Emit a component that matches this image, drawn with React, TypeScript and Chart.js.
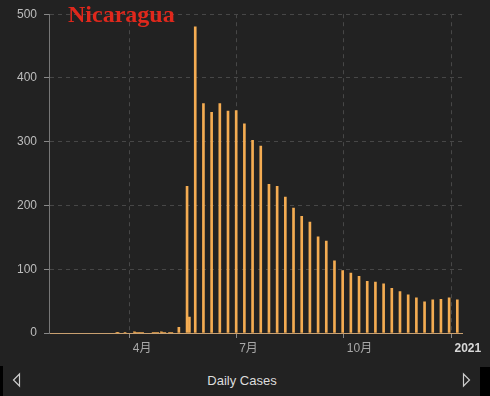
import React, { useEffect, useRef } from "react";
import { Chart, registerables } from "chart.js";

Chart.register(...registerables);

// Weekly reported cases (from late May 2020)
const weeklyDates = [
  "2020-05-20", "2020-05-27", "2020-06-03", "2020-06-10", "2020-06-17", "2020-06-24",
  "2020-07-01", "2020-07-08", "2020-07-15", "2020-07-22", "2020-07-29", "2020-08-05",
  "2020-08-12", "2020-08-19", "2020-08-26", "2020-09-02", "2020-09-09", "2020-09-16",
  "2020-09-23", "2020-09-30", "2020-10-07", "2020-10-14", "2020-10-21", "2020-10-28",
  "2020-11-04", "2020-11-11", "2020-11-18", "2020-11-25", "2020-12-02", "2020-12-09",
  "2020-12-16", "2020-12-23", "2020-12-30", "2021-01-06",
];
const weeklyCases = [
  230, 480, 360, 346, 360, 348,
  349, 328, 302, 293, 233, 230,
  213, 196, 183, 174, 151, 144,
  113, 98, 94, 89, 81, 80,
  77, 70, 65, 60, 55, 49,
  52, 53, 55, 52,
];

// Early sparse daily cases
const earlyDates = [
  "2020-03-21", "2020-03-22", "2020-03-28", "2020-04-05", "2020-04-06", "2020-04-08",
  "2020-04-10", "2020-04-12", "2020-04-21", "2020-04-23", "2020-04-25", "2020-04-28",
  "2020-04-29", "2020-05-01", "2020-05-05", "2020-05-07", "2020-05-13", "2020-05-22",
];
const earlyCases = [
  1, 1, 1, 2, 1, 1,
  1, 1, 1, 1, 1, 2,
  1, 1, 1, 1, 9, 25,
];

const tickDates = ["2020-04-01", "2020-07-01", "2020-10-01", "2021-01-01"];
const tickLabels = ["4月", "7月", "10月", "2021"];
const axisStartDate = "2020-01-23";
const axisEndDate = "2021-01-10";
const yMin = 0;
const yMax = 500;
const yStep = 100;

const DAY_MS = 86400000;
const ORIGIN = Date.UTC(2020, 0, 1);
function dayIndex(s: string): number {
  const [y, m, d] = s.split("-").map(Number);
  return Math.round((Date.UTC(y, m - 1, d) - ORIGIN) / DAY_MS);
}

export default function App() {
  const canvasRef = useRef<HTMLCanvasElement | null>(null);

  useEffect(() => {
    if (!canvasRef.current) return;
    const points = [
      ...earlyDates.map((d, i) => ({ x: dayIndex(d), y: earlyCases[i] })),
      ...weeklyDates.map((d, i) => ({ x: dayIndex(d), y: weeklyCases[i] })),
    ].sort((a, b) => a.x - b.x);
    const tickDays = tickDates.map(dayIndex);
    const labelFor: Record<number, string> = {};
    tickDays.forEach((d, i) => (labelFor[d] = tickLabels[i]));
    const boldDay = tickDays[tickDays.length - 1];

    const chart = new Chart(canvasRef.current, {
      type: "bar",
      data: {
        datasets: [
          {
            label: "Daily Cases",
            data: points,
            backgroundColor: "#f4ac52",
            borderWidth: 0,
            barThickness: 2,
          },
        ],
      },
      options: {
        animation: false,
        responsive: false,
        maintainAspectRatio: false,
        layout: { padding: { top: 14, right: 28, left: 0, bottom: 0 } },
        plugins: {
          legend: { display: false },
          tooltip: { enabled: false },
          title: { display: false },
        },
        scales: {
          x: {
            type: "linear",
            min: dayIndex(axisStartDate),
            max: dayIndex(axisEndDate),
            offset: false,
            afterBuildTicks: (scale: any) => {
              scale.ticks = tickDays.map((v) => ({ value: v }));
            },
            afterFit: (scale: any) => {
              scale.height = 33;
            },
            ticks: {
              autoSkip: false,
              maxRotation: 0,
              align: "start",
              labelOffset: 3,
              padding: 3,
              color: (ctx: any) => (ctx.tick && ctx.tick.value === boldDay ? "#d8d8d8" : "#a8a8a8"),
              font: (ctx: any) => ({
                family: "'Liberation Sans', 'Noto Sans CJK SC', sans-serif",
                size: 12,
                weight: ctx.tick && ctx.tick.value === boldDay ? "bold" : "normal",
              }),
              callback: (v: any) => labelFor[v as number] ?? "",
            },
            grid: {
              offset: false,
              color: "#474747",
              lineWidth: 1,
              tickLength: 5,
              tickColor: "#888888",
              tickBorderDash: [],
            },
            border: {
              display: true,
              color: "#c9a070",
              width: 1,
              dash: [4, 4],
            },
          },
          y: {
            type: "linear",
            min: yMin,
            max: yMax,
            afterFit: (scale: any) => {
              scale.width = 49;
            },
            ticks: {
              stepSize: yStep,
              padding: 7,
              color: "#bdbdbd",
              font: { family: "'Liberation Sans', sans-serif", size: 12 },
            },
            grid: {
              color: "#474747",
              lineWidth: 1,
              tickLength: 5,
              tickColor: "#888888",
              tickBorderDash: [],
            },
            border: {
              display: true,
              color: "#777777",
              width: 1,
              dash: [4, 4],
            },
          },
        },
      },
    } as any);
    return () => chart.destroy();
  }, []);

  return (
    <div
      style={{
        position: "fixed",
        left: 0,
        top: 0,
        width: 490,
        height: 396,
        background: "#222222",
        overflow: "hidden",
      }}
    >
      <canvas
        ref={canvasRef}
        width={490}
        height={366}
        style={{ position: "absolute", left: 0, top: 0, width: 490, height: 366 }}
      />
      <div
        style={{
          position: "absolute",
          left: 68,
          top: 2,
          fontFamily: "'Liberation Serif', 'Times New Roman', serif",
          fontWeight: "bold",
          fontSize: 24,
          lineHeight: "24px",
          color: "#e0281c",
          whiteSpace: "nowrap",
        }}
      >
        Nicaragua
      </div>
      <div style={{ position: "absolute", left: 0, top: 366, width: 3, height: 30, background: "#000" }} />
      <div style={{ position: "absolute", left: 480, top: 367, width: 10, height: 29, background: "#000" }} />
      <svg
        width={490}
        height={30}
        style={{ position: "absolute", left: 0, top: 366 }}
      >
        <polygon points="19.5,8 13.5,14 19.5,20" fill="none" stroke="#cccccc" strokeWidth={1.2} />
        <polygon points="463.5,8 469.5,14 463.5,20" fill="none" stroke="#cccccc" strokeWidth={1.2} />
      </svg>
      <div
        style={{
          position: "absolute",
          left: 0,
          top: 373,
          width: 484,
          textAlign: "center",
          fontFamily: "'Liberation Sans', Arial, sans-serif",
          fontSize: 13,
          lineHeight: "16px",
          color: "#dddddd",
        }}
      >
        Daily Cases
      </div>
    </div>
  );
}
